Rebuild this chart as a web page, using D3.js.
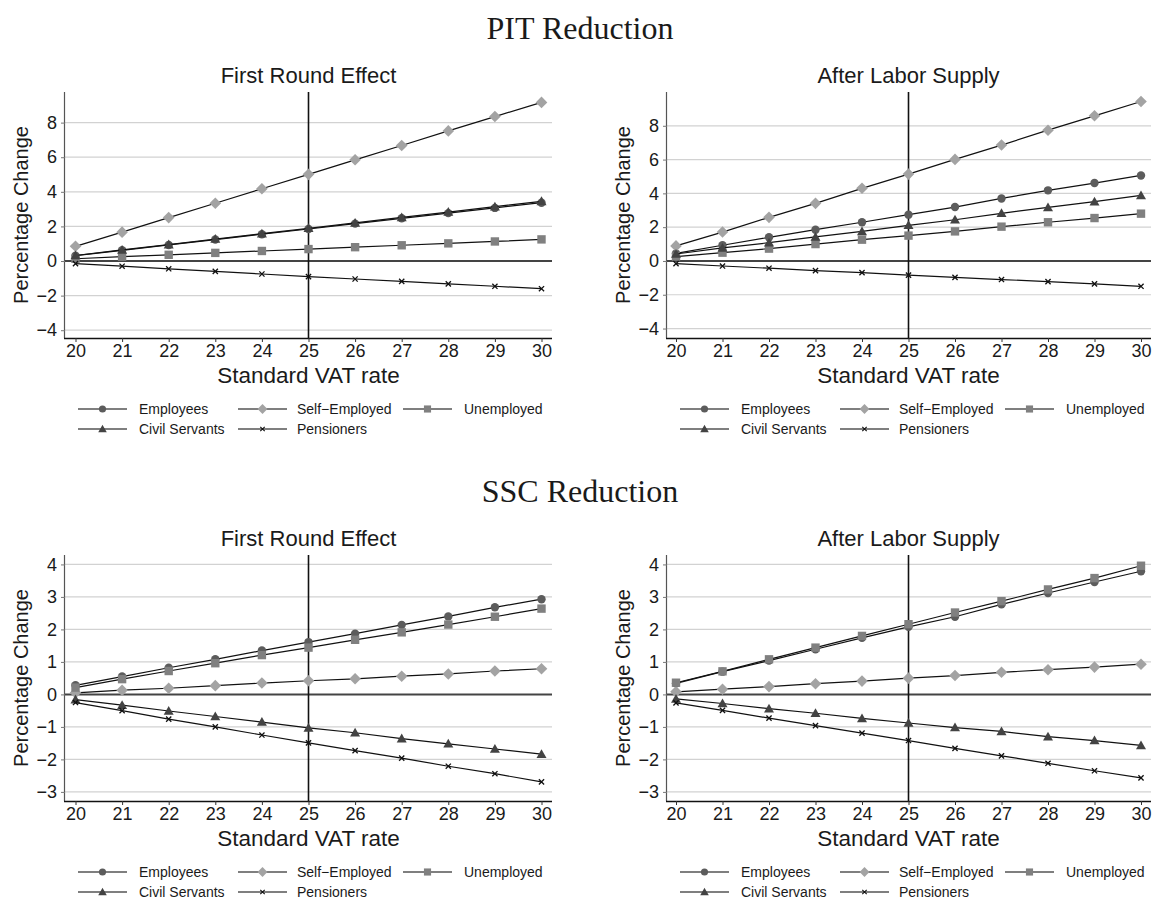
<!DOCTYPE html>
<html>
<head>
<meta charset="utf-8">
<script src="https://cdn.jsdelivr.net/npm/d3@7"></script>
<style>
  html, body { margin: 0; padding: 0; background: #fff; }
  svg { display: block; }
  text { font-family: "Liberation Sans", Arial, sans-serif; fill: #1a1a1a; }
  .main-title { font-family: "Liberation Serif", "Times New Roman", serif; }
</style>
</head>
<body>
<svg id="chart" width="1153" height="900"></svg>
<script>
// Standard VAT rate scenarios
const vatRates = [20, 21, 22, 23, 24, 25, 26, 27, 28, 29, 30];
const baselineRate = 25;

const groupNames = ["Employees", "Self\u2212Employed", "Unemployed", "Civil Servants", "Pensioners"];

// PIT reduction, first round effect (% change)
const pitFirstEmployees     = [0.31, 0.62, 0.93, 1.24, 1.55, 1.85, 2.16, 2.47, 2.77, 3.07, 3.37];
const pitFirstSelfEmployed  = [0.85, 1.67, 2.51, 3.34, 4.18, 5.01, 5.85, 6.68, 7.52, 8.35, 9.17];
const pitFirstUnemployed    = [0.13, 0.25, 0.36, 0.47, 0.58, 0.69, 0.80, 0.91, 1.02, 1.13, 1.25];
const pitFirstCivilServants = [0.32, 0.64, 0.95, 1.27, 1.58, 1.89, 2.20, 2.52, 2.83, 3.14, 3.45];
const pitFirstPensioners    = [-0.15, -0.30, -0.45, -0.60, -0.75, -0.90, -1.04, -1.18, -1.32, -1.46, -1.60];

// PIT reduction, after labor supply (% change)
const pitLaborEmployees     = [0.45, 0.93, 1.40, 1.85, 2.29, 2.74, 3.19, 3.70, 4.18, 4.61, 5.06];
const pitLaborSelfEmployed  = [0.89, 1.71, 2.58, 3.41, 4.30, 5.14, 6.01, 6.86, 7.74, 8.59, 9.44];
const pitLaborUnemployed    = [0.26, 0.49, 0.73, 1.00, 1.26, 1.50, 1.75, 2.03, 2.29, 2.54, 2.80];
const pitLaborCivilServants = [0.41, 0.77, 1.08, 1.42, 1.75, 2.11, 2.44, 2.82, 3.17, 3.51, 3.88];
const pitLaborPensioners    = [-0.16, -0.30, -0.43, -0.57, -0.69, -0.84, -0.97, -1.10, -1.22, -1.36, -1.50];

// SSC reduction, first round effect (% change)
const sscFirstEmployees     = [0.28, 0.55, 0.82, 1.08, 1.35, 1.61, 1.87, 2.14, 2.40, 2.68, 2.93];
const sscFirstSelfEmployed  = [0.05, 0.13, 0.19, 0.27, 0.35, 0.42, 0.48, 0.56, 0.63, 0.72, 0.79];
const sscFirstUnemployed    = [0.21, 0.47, 0.72, 0.96, 1.21, 1.44, 1.68, 1.91, 2.15, 2.39, 2.64];
const sscFirstCivilServants = [-0.16, -0.33, -0.51, -0.68, -0.85, -1.03, -1.18, -1.36, -1.52, -1.68, -1.84];
const sscFirstPensioners    = [-0.25, -0.50, -0.76, -1.00, -1.25, -1.49, -1.73, -1.96, -2.21, -2.44, -2.69];

// SSC reduction, after labor supply (% change)
const sscLaborEmployees     = [0.34, 0.70, 1.04, 1.39, 1.74, 2.08, 2.39, 2.77, 3.12, 3.46, 3.79];
const sscLaborSelfEmployed  = [0.08, 0.16, 0.24, 0.33, 0.41, 0.50, 0.58, 0.68, 0.76, 0.84, 0.93];
const sscLaborUnemployed    = [0.36, 0.71, 1.08, 1.44, 1.80, 2.16, 2.52, 2.87, 3.23, 3.58, 3.96];
const sscLaborCivilServants = [-0.14, -0.28, -0.44, -0.58, -0.74, -0.88, -1.02, -1.14, -1.30, -1.42, -1.57];
const sscLaborPensioners    = [-0.26, -0.49, -0.73, -0.96, -1.19, -1.42, -1.66, -1.89, -2.12, -2.35, -2.57];

const pitTicks = [-4, -2, 0, 2, 4, 6, 8];
const sscTicks = [-3, -2, -1, 0, 1, 2, 3, 4];

// marker look per group
const markerStyle = [
  { shape: "circle",   fill: "#5c5c5c" },
  { shape: "diamond",  fill: "#a3a3a3" },
  { shape: "square",   fill: "#808080" },
  { shape: "triangle", fill: "#434343" },
  { shape: "x",        fill: "#111111" }
];

function markerPath(shape) {
  switch (shape) {
    case "circle":   { const r = 4.2; return `M${-r},0A${r},${r},0,1,0,${r},0A${r},${r},0,1,0,${-r},0Z`; }
    case "diamond":  { const h = 5.8; return `M0,${-h}L${h},0L0,${h}L${-h},0Z`; }
    case "square":   { const s = 4.2; return `M${-s},${-s}H${s}V${s}H${-s}Z`; }
    case "triangle": { const w = 5, t = -5, b = 3.8; return `M0,${t}L${w},${b}L${-w},${b}Z`; }
    case "x":        { const a = 2.6; return `M${-a},${-a}L${a},${a}M${-a},${a}L${a},${-a}`; }
  }
}

function drawMarker(sel, style) {
  const p = sel.append("path").attr("d", markerPath(style.shape));
  if (style.shape === "x") {
    p.attr("fill", "none").attr("stroke", style.fill).attr("stroke-width", 1.3);
  } else {
    p.attr("fill", style.fill).attr("stroke", "none");
  }
  return p;
}

const svg = d3.select("#chart");

const panels = [
  { title: "First Round Effect", left: 65, right: 552, x20: 75.5, x30: 541.5, top: 92, bottom: 338,
    yDomain: [-4.45, 9.77], ticks: pitTicks,
    series: [pitFirstEmployees, pitFirstSelfEmployed, pitFirstUnemployed, pitFirstCivilServants, pitFirstPensioners] },
  { title: "After Labor Supply", left: 667, right: 1151, x20: 676, x30: 1141, top: 92, bottom: 338,
    yDomain: [-4.56, 10.0], ticks: pitTicks,
    series: [pitLaborEmployees, pitLaborSelfEmployed, pitLaborUnemployed, pitLaborCivilServants, pitLaborPensioners] },
  { title: "First Round Effect", left: 65, right: 552, x20: 75.5, x30: 541.5, top: 555, bottom: 801,
    yDomain: [-3.28, 4.29], ticks: sscTicks,
    series: [sscFirstEmployees, sscFirstSelfEmployed, sscFirstUnemployed, sscFirstCivilServants, sscFirstPensioners] },
  { title: "After Labor Supply", left: 667, right: 1151, x20: 676, x30: 1141, top: 555, bottom: 801,
    yDomain: [-3.28, 4.29], ticks: sscTicks,
    series: [sscLaborEmployees, sscLaborSelfEmployed, sscLaborUnemployed, sscLaborCivilServants, sscLaborPensioners] }
];

// section headings
svg.append("text").attr("class", "main-title")
  .attr("x", 580).attr("y", 39).attr("text-anchor", "middle")
  .style("font-size", "32px").text("PIT Reduction");
svg.append("text").attr("class", "main-title")
  .attr("x", 580).attr("y", 502).attr("text-anchor", "middle")
  .style("font-size", "32px").text("SSC Reduction");

panels.forEach(p => {
  const g = svg.append("g");
  const x = d3.scaleLinear().domain([vatRates[0], vatRates[vatRates.length - 1]]).range([p.x20, p.x30]);
  const y = d3.scaleLinear().domain(p.yDomain).range([p.bottom, p.top]);

  // gridlines
  g.append("g").selectAll("line")
    .data(p.ticks.filter(t => t !== 0))
    .join("line")
    .attr("x1", p.left).attr("x2", p.right)
    .attr("y1", d => y(d)).attr("y2", d => y(d))
    .attr("stroke", "#d2d2d2").attr("stroke-width", 1.2);

  // zero line
  g.append("line")
    .attr("x1", p.left).attr("x2", p.right)
    .attr("y1", y(0)).attr("y2", y(0))
    .attr("stroke", "#444").attr("stroke-width", 2);

  // baseline VAT rate
  g.append("line")
    .attr("x1", x(baselineRate)).attr("x2", x(baselineRate))
    .attr("y1", p.top).attr("y2", p.bottom)
    .attr("stroke", "#111").attr("stroke-width", 1.6);

  // y axis
  const yAxis = d3.axisLeft(y).tickValues(p.ticks).tickSize(4).tickPadding(4)
    .tickFormat(d => d < 0 ? "\u2212" + Math.abs(d) : String(d));
  const ya = g.append("g").attr("transform", `translate(${p.left},0)`).call(yAxis);
  ya.select(".domain").attr("d", `M-0.5,${p.top}V${p.bottom}`).attr("stroke", "#555").attr("stroke-width", 1.2);
  ya.selectAll(".tick line").attr("stroke", "#777");
  ya.selectAll(".tick text").style("font-size", "18px").attr("fill", "#1a1a1a");

  // x axis
  const xAxis = d3.axisBottom(x).tickValues(vatRates).tickSize(4).tickPadding(2).tickFormat(d3.format("d"));
  const xa = g.append("g").attr("transform", `translate(0,${p.bottom})`).call(xAxis);
  xa.select(".domain").attr("d", `M${p.left - 1},0.5H${p.right}`).attr("stroke", "#111").attr("stroke-width", 1.5);
  xa.selectAll(".tick line").attr("stroke", "#333");
  xa.selectAll(".tick text").style("font-size", "18px").attr("fill", "#1a1a1a");

  // titles
  g.append("text").attr("x", x(baselineRate)).attr("y", p.top - 9).attr("text-anchor", "middle")
    .style("font-size", "22px").text(p.title);
  g.append("text").attr("x", x(baselineRate)).attr("y", p.bottom + 45).attr("text-anchor", "middle")
    .style("font-size", "22.5px").text("Standard VAT rate");
  g.append("text")
    .attr("transform", `translate(${p.left - 37},${(p.top + p.bottom) / 2}) rotate(-90)`)
    .attr("text-anchor", "middle").style("font-size", "20px").text("Percentage Change");

  // series: connecting line, then markers
  const line = d3.line().x((d, i) => x(vatRates[i])).y(d => y(d));
  p.series.forEach((vals, si) => {
    const sg = g.append("g");
    sg.append("path").attr("d", line(vals))
      .attr("fill", "none").attr("stroke", "#111").attr("stroke-width", 1.2);
    sg.selectAll("g.m").data(vals).join("g").attr("class", "m")
      .attr("transform", (d, i) => `translate(${x(vatRates[i])},${y(d)})`)
      .each(function () { drawMarker(d3.select(this), markerStyle[si]); });
  });

  // legend
  const lgX = p.left + 13;
  const lgY = p.bottom + 71;
  const colLine = [0, 160, 325];
  const colText = [61, 219, 386];
  const slots = [[0, 0], [0, 1], [0, 2], [1, 0], [1, 1]];
  groupNames.forEach((name, i) => {
    const [row, col] = slots[i];
    const lx = lgX + colLine[col];
    const ly = lgY + row * 20;
    const item = g.append("g");
    item.append("line").attr("x1", lx).attr("x2", lx + 49).attr("y1", ly).attr("y2", ly)
      .attr("stroke", "#555").attr("stroke-width", 1.5);
    const mk = item.append("g").attr("transform", `translate(${lx + 24.5},${ly}) scale(0.85)`);
    drawMarker(mk, markerStyle[i]);
    item.append("text").attr("x", lgX + colText[col]).attr("y", ly + 4.5)
      .style("font-size", "14px").text(name);
  });
});
</script>
</body>
</html>
